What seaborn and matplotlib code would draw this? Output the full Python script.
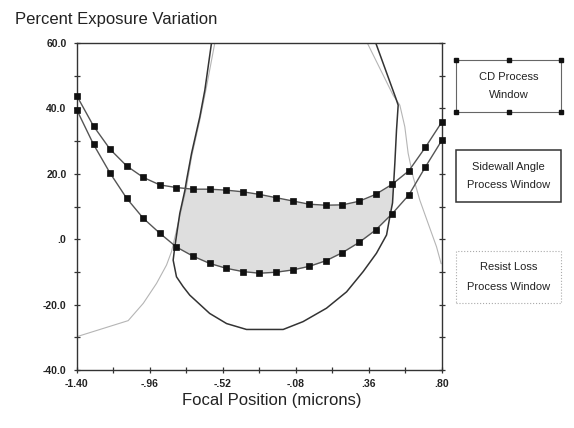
import numpy as np
import matplotlib.pyplot as plt
from matplotlib.patches import Polygon, Rectangle
from matplotlib.lines import Line2D
import seaborn as sns

# CD process window (upper / lower exposure limits vs focus)
focal = [-1.40, -1.30, -1.20, -1.10, -1.00, -0.90, -0.80, -0.70, -0.60, -0.50, -0.40, -0.30,
         -0.20, -0.10, 0.00, 0.10, 0.20, 0.30, 0.40, 0.50, 0.60, 0.70, 0.80]
cd_upper = [43.8, 34.6, 27.5, 22.4, 18.9, 16.6, 15.8, 15.3, 15.3, 15.0, 14.5, 13.7,
            12.7, 11.7, 10.7, 10.4, 10.5, 11.6, 13.7, 16.8, 20.9, 28.1, 35.9]
cd_lower = [39.5, 29.0, 20.2, 12.5, 6.4, 1.8, -2.4, -5.2, -7.4, -8.9, -9.9, -10.4,
            -10.1, -9.4, -8.3, -6.6, -4.1, -1.0, 2.8, 7.8, 13.5, 22.1, 30.3]

# sidewall angle process window (U shaped contour)
sw_x = [-0.589, -0.629, -0.659, -0.709, -0.739, -0.749, -0.780, -0.810, -0.820, -0.800, -0.760,
        -0.720, -0.600, -0.498, -0.378, -0.157, -0.037, 0.104, 0.225, 0.325, 0.405,
        0.466, 0.486, 0.502, 0.510, 0.516, 0.526, 0.536, 0.522, 0.401]
sw_y = [60.0, 45.6, 37.5, 26.3, 18.1, 15.0, 7.9, -2.3, -6.4, -11.5, -14.5,
        -17.1, -22.7, -25.8, -27.6, -27.6, -25.2, -21.1, -16.1, -9.9, -4.3,
        1.3, 6.9, 11.1, 18.1, 23.3, 33.4, 41.0, 43.1, 60.0]

# resist loss process window (two branches leaving the top of the plot)
rl_left_x = [-1.40, -1.091, -1.00, -0.920, -0.860, -0.830, -0.743, -0.709, -0.659, -0.619, -0.569]
rl_left_y = [-29.8, -24.9, -19.6, -13.5, -7.9, -3.8, 15.0, 25.2, 36.5, 46.6, 60.0]
rl_right_x = [0.350, 0.505, 0.546, 0.576, 0.596, 0.626, 0.666, 0.716, 0.767, 0.795]
rl_right_y = [60.0, 44.1, 41.0, 34.4, 26.3, 19.1, 12.0, 4.9, -2.3, -7.5]

x_ticks = [-1.40, -1.18, -0.96, -0.74, -0.52, -0.30, -0.08, 0.14, 0.36, 0.58, 0.80]
x_labels = ["-1.40", "", "-.96", "", "-.52", "", "-.08", "", ".36", "", ".80"]
y_ticks = [-40, -30, -20, -10, 0, 10, 20, 30, 40, 50, 60]
y_labels = ["-40.0", "", "-20.0", "", ".0", "", "20.0", "", "40.0", "", "60.0"]

sns.set_style("ticks")
plt.rcParams['font.family'] = ['Liberation Sans', 'DejaVu Sans']

fig = plt.figure(figsize=(5.74, 4.28), dpi=100)
ax = fig.add_axes([0.134, 0.1355, 0.636, 0.764])

# shaded overlap: CD window clipped to the sidewall contour
fill = ax.fill_between(focal, cd_lower, cd_upper, color='#dedede', linewidth=0, zorder=1)
clip = Polygon(np.column_stack([sw_x, sw_y]), closed=True, transform=ax.transData)
fill.set_clip_path(clip)

sns.lineplot(x=rl_left_x, y=rl_left_y, sort=False, estimator=None, color='#b5b5b5',
             linewidth=0.8, ax=ax, zorder=2)
sns.lineplot(x=rl_right_x, y=rl_right_y, sort=False, estimator=None, color='#b5b5b5',
             linewidth=0.8, ax=ax, zorder=2)
sns.lineplot(x=sw_x, y=sw_y, sort=False, estimator=None, color='#333333',
             linewidth=1.1, ax=ax, zorder=3)
for vals in (cd_upper, cd_lower):
    sns.lineplot(x=focal, y=vals, sort=False, estimator=None, color='#555555', linewidth=1.0,
                 marker='s', markersize=4.2, markerfacecolor='#111111',
                 markeredgecolor='#111111', markeredgewidth=0.5, ax=ax, zorder=4, clip_on=False)

ax.set_xlim(-1.40, 0.80)
ax.set_ylim(-40, 60)
ax.set_xticks(x_ticks)
ax.set_xticklabels(x_labels)
ax.set_yticks(y_ticks)
ax.set_yticklabels(y_labels)
ax.tick_params(axis='both', direction='inout', length=5, width=0.9, color='#333333',
               labelsize=7.5, labelcolor='#222222')
ax.tick_params(axis='y', right=True, pad=5)
ax.tick_params(axis='x', pad=4)
for lab in ax.get_xticklabels() + ax.get_yticklabels():
    lab.set_fontweight('bold')
for s in ax.spines.values():
    s.set_color('#333333')
    s.set_linewidth(1.0)
ax.set_xlabel("")
ax.set_ylabel("")

fig.text(0.026, 0.944, "Percent Exposure Variation", fontsize=12, va='baseline', ha='left',
         color='#222222')
fig.text(0.4733, 0.0537, "Focal Position (microns)", fontsize=12, va='baseline', ha='center',
         color='#222222')

# legend boxes on the right
bx0, bw = 456 / 574, 105 / 574
boxes = [
    (60, 112, ["CD Process", "Window"], dict(edgecolor='#666666', linewidth=0.8, linestyle='-')),
    (150, 202, ["Sidewall Angle", "Process Window"], dict(edgecolor='#333333', linewidth=1.1, linestyle='-')),
    (251, 303, ["Resist Loss", "Process Window"], dict(edgecolor='#aaaaaa', linewidth=0.8, linestyle=':')),
]
for top, bot, lines, style in boxes:
    y0 = 1 - bot / 428
    h = (bot - top) / 428
    fig.add_artist(Rectangle((bx0, y0), bw, h, transform=fig.transFigure, facecolor='none', **style))
    mid = (top + bot) / 2
    fig.text(bx0 + bw / 2, 1 - (mid - 9.5) / 428, lines[0], fontsize=8, ha='center', va='center',
             color='#222222')
    fig.text(bx0 + bw / 2, 1 - (mid + 9.5) / 428, lines[1], fontsize=8, ha='center', va='center',
             color='#222222')

# corner / midpoint markers of the CD box
yt, yb = 1 - 60 / 428, 1 - 112 / 428
mx = [bx0, bx0 + bw / 2, bx0 + bw, bx0, bx0 + bw / 2, bx0 + bw]
my = [yt, yt, yt, yb, yb, yb]
fig.add_artist(Line2D(mx, my, transform=fig.transFigure, linestyle='none', marker='s',
                      markersize=3, color='#111111'))

fig.savefig("out.png", dpi=100)
